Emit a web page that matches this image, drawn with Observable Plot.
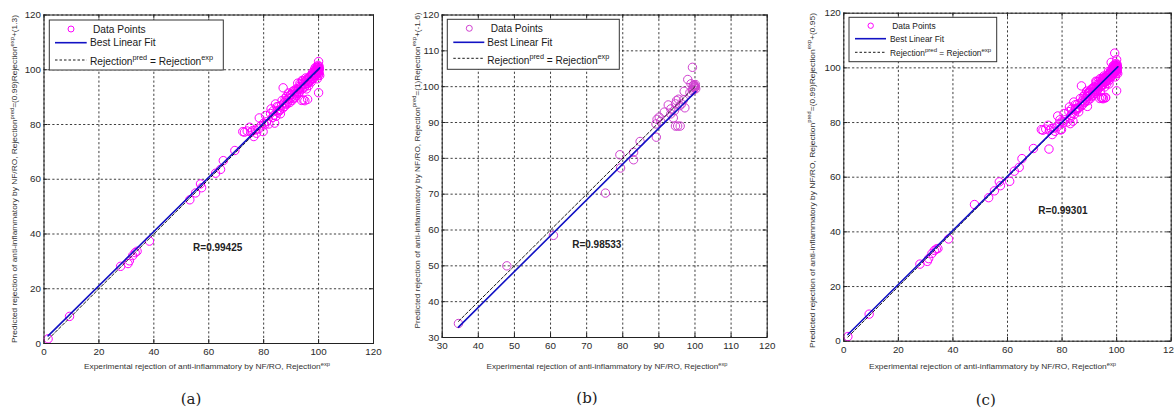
<!DOCTYPE html>
<html><head><meta charset="utf-8">
<script src="https://cdn.jsdelivr.net/npm/d3@7"></script>
<script src="https://cdn.jsdelivr.net/npm/@observablehq/plot@0.6"></script>
<style>
html,body{margin:0;padding:0;background:#fff;width:1174px;height:409px;overflow:hidden;}
#root{position:relative;width:1174px;height:409px;}
#root svg{position:absolute;top:0;}
</style></head><body><div id="root"></div>
<script>
// ---- Data ----
// (a) training set: experimental vs predicted rejection
const trainExp = [1.5,9.3,27.9,30.6,31.1,32.3,33.2,33.9,38.4,53.1,55.2,57.0,57.4,62.5,64.3,65.3,69.5,
72.4,74.0,74.9,75.4,76.4,77.4,78.2,78.4,79.8,80.4,80.7,81.9,82.7,83.7,84.0,84.3,84.9,85.5,86.1,87.1,86.7,87.6,88.3,88.5,89.2,89.8,90.4,91.0,91.3,92.0,92.4,92.8,93.4,93.8,94.4,94.0,94.8,95.2,95.6,95.8,96.4,96.8,97.3,97.7,98.0,98.3,98.9,99.2,99.5,99.7,100,100,100.3,99.8,100.0,100.4,99.5,
86,87.5,88.5,89.5,90,90.8,91.5,92,92.5,93,93.5,94,94.5,95,95.5,96,96.5,97,97.5,98,98.5,99,99,99.5,100,100,99.8,99.3,98.7,97.8,96.2,95.3,94.2,93.2,92.2,91.2,90.2,89,88,87,85.2,84.5,83.2,82.5,81,80,79,77,76,73,
99.6,100.2,99.9,100.1,98.8,95.0,96.0,
96.5,97.2,98.2,99.1,99.4,100.2,98.5,97.5,96.8,95.8,94.8,93.8,92.8,91.8,90.5,89.5,88.8,87.8,86.5,85.8,84.8,83.5,99.7,100.1,99.2];
const trainPred = [1.7,9.9,28.2,29.2,30.2,32.1,33.2,33.7,37.4,52.5,55.0,58.3,56.9,62.2,63.6,66.8,70.5,
77.4,77.6,79.0,77.2,75.6,76.8,78.4,82.4,77.4,79.9,83.3,80.2,85.7,83.3,80.5,87.5,85.1,86.6,83.9,93.4,88.8,86.6,90.2,87.5,89.4,90.8,88.8,92.4,90.0,91.4,95.1,92.7,93.6,88.8,89.0,96.1,94.6,95.5,93.0,96.7,94.2,97.5,95.5,98.3,97.0,99.1,97.9,99.7,98.5,100.9,103.0,91.6,100.3,101.6,99.1,97.9,96.7,
85.5,88,89,88,91,89.5,92,90.5,93,92,94.5,93,95,94,96,95,97,96,97.5,98.5,98,99,100,99.5,100,101,99,100.5,99.5,99,96.5,97,95.8,95,92,91,90,91.5,87.5,86,84.5,83,82.5,84,81,80.5,79.5,78,77.8,77.2,
100.2,101.2,98,99.6,100.8,88.7,89.2,
95.5,97.8,96.8,98.2,101,98.6,100,96.5,96,95,93.5,94,91.5,93,92,90.5,88.2,89.5,87,85,86.5,85,99.3,100.4,99.2];
// (b) testing set
const testExp = [34.5,47.9,60.8,75.2,79.2,79.4,83.0,83.0,84.8,89.3,89.2,89.5,90.1,90.5,91.5,92.6,93.3,94.0,94.6,94.9,95.4,94.6,95.2,95.9,96.3,96.8,97.0,97.2,98.0,98.9,99.3,99.5,99.8,100,100.2,99.3,98.6,94.3,93.3,95.8,99.7,100,99.9,100.1,99.6];
const testPred = [33.9,50.0,58.5,70.3,81.0,77.3,81.7,79.6,84.7,85.9,89.6,90.9,91.5,90.3,92.9,94.9,92.4,91.3,95.2,96.1,96.5,89.0,89.0,89.0,95.2,96.3,98.7,94.1,102.0,100.8,105.4,100.3,99.6,100,99.4,98.9,98.4,93.3,93.8,94.7,100.5,99.8,100.2,100.6,99.2];
// (c) all data = training + testing
const allExp = trainExp.concat(testExp);
const allPred = trainPred.concat(testPred);

const fitSlope = [0.99, 1, 0.99];
const fitIntercept = [1.3, -1.6, 0.95];
const slopeText = ["(0.99)", "(1)", "(0.99)"];
const interceptText = ["(1.3)", "(-1.6)", "(0.95)"];
const rLabels = ["R=0.99425", "R=0.98533", "R=0.99301"];
const captions = ["(a)", "(b)", "(c)"];
const ticksA = [0, 20, 40, 60, 80, 100, 120];
const ticksB = [30, 40, 50, 60, 70, 80, 90, 100, 110, 120];

// ---- Layout ----
const FONT = "'Liberation Sans', Arial, Helvetica, sans-serif";
const BLUE = "#1212c4";
const panels = [
  {left: 0, width: 390, mt: 14.5, mb: 66, ml: 43.5, mr: 17, xs: trainExp, ys: trainPred, ticks: ticksA, domain: [0,120],
   dot: "#ff00ff", rx: 54.3, ry: 35,
   leg: {x: 49.3, y: 20, w: 174, h: 50, fs: 10.2, cx: 71, cr: 3, t1x: 93, lx1: 55, lx2: 86.7, tx: 90, r1: 29, r2: 42.7, r3: 60, r3b: 64.5},
   xt: {cx: 207, y: 369, len: 246}, yt: {x: 17, cy: 179, len: 328}, cap: {x: 191, y: 404}},
  {left: 390, width: 390, mt: 14.5, mb: 72, ml: 51.7, mr: 13.3, xs: testExp, ys: testPred, ticks: ticksB, domain: [30,120],
   dot: "#d040d0", rx: 66, ry: 55.9,
   leg: {x: 57.3, y: 19.3, w: 172, h: 50, fs: 10.1, cx: 79.3, cr: 3, t1x: 100.7, lx1: 63.3, lx2: 94.3, tx: 97.3, r1: 28.3, r2: 42.3, r3: 58.3, r3b: 63.5},
   xt: {cx: 217, y: 369, len: 241}, yt: {x: 29.7, cy: 170.5, len: 316}, cap: {x: 197, y: 403}},
  {left: 780, width: 394, mt: 12.7, mb: 68.3, ml: 63.3, mr: 3.3, xs: allExp, ys: allPred, ticks: ticksA, domain: [0,120],
   dot: "#ff00ff", rx: 71.3, ry: 47.8,
   leg: {x: 69, y: 17.3, w: 147.7, h: 44.4, fs: 8.4, cx: 90.7, cr: 2.7, t1x: 112.3, lx1: 75, lx2: 106, tx: 110, r1: 25.7, r2: 38.7, r3: 52.3, r3b: 56},
   xt: {cx: 212.6, y: 369, len: 247}, yt: {x: 34.7, cy: 180.5, len: 335}, cap: {x: 205.7, y: 405}}
];

const root = document.getElementById("root");
panels.forEach((p, i) => {
  const H = 409;
  const fh = H - p.mt - p.mb;
  const fw = p.width - p.ml - p.mr;
  const pts = p.xs.map((x, k) => ({x, y: p.ys[k]}));
  const ext = d3.extent(p.xs);
  const fit = ext.map(x => ({x, y: fitSlope[i] * x + fitIntercept[i]}));
  const ideal = ext.map(x => ({x, y: x}));
  const svg = Plot.plot({
    width: p.width, height: H,
    marginTop: p.mt, marginBottom: p.mb, marginLeft: p.ml, marginRight: p.mr,
    style: {fontFamily: FONT, fontSize: "9.8px", color: "#2a2a2a", overflow: "visible", maxWidth: "none", background: "transparent"},
    x: {domain: p.domain, label: null},
    y: {domain: p.domain, label: null},
    marks: [
      Plot.gridX(p.ticks, {stroke: "#111", strokeOpacity: 0.9, strokeDasharray: "2.2,2.2", strokeWidth: 0.9}),
      Plot.gridY(p.ticks, {stroke: "#111", strokeOpacity: 0.9, strokeDasharray: "2.2,2.2", strokeWidth: 0.9}),
      Plot.ruleX(p.ticks, {x: d => d, insetTop: fh - 4, stroke: "#222"}),
      Plot.ruleX(p.ticks, {x: d => d, insetBottom: fh - 4, stroke: "#222"}),
      Plot.ruleY(p.ticks, {y: d => d, insetRight: fw - 4, stroke: "#222"}),
      Plot.ruleY(p.ticks, {y: d => d, insetLeft: fw - 4, stroke: "#222"}),
      Plot.dot(pts, {x: "x", y: "y", r: 4.2, stroke: p.dot, fill: "none", strokeWidth: 1}),
      Plot.line(ideal, {x: "x", y: "y", stroke: "#000", strokeDasharray: "3,2", strokeWidth: 0.9}),
      Plot.line(fit, {x: "x", y: "y", stroke: BLUE, strokeWidth: 1.6}),
      Plot.text([rLabels[i]], {x: () => p.rx, y: () => p.ry, text: d => d, textAnchor: "start", fontWeight: "bold", fontSize: 10, fill: "#222", fontFamily: FONT}),
      Plot.axisX(p.ticks, {tickSize: 0, tickPadding: 5, label: null}),
      Plot.axisY(p.ticks, {tickSize: 0, tickPadding: 3, label: null}),
      Plot.frame({stroke: "#222"})
    ]
  });
  svg.style.left = p.left + "px";
  root.appendChild(svg);
  const s = d3.select(svg);

  // legend
  const L = p.leg;
  const g = s.append("g").attr("font-family", FONT).attr("fill", "#1a1a1a").attr("font-size", L.fs)
    .attr("text-anchor", "start");
  g.append("rect").attr("x", L.x).attr("y", L.y).attr("width", L.w).attr("height", L.h)
    .attr("fill", "#fff").attr("stroke", "#333").attr("stroke-width", 1);
  g.append("circle").attr("cx", L.cx).attr("cy", L.r1).attr("r", L.cr)
    .attr("fill", "none").attr("stroke", p.dot).attr("stroke-width", 1);
  g.append("text").attr("x", L.t1x).attr("y", L.r1).attr("dy", "0.36em").text("Data Points");
  g.append("line").attr("x1", L.lx1).attr("x2", L.lx2).attr("y1", L.r2).attr("y2", L.r2)
    .attr("stroke", BLUE).attr("stroke-width", 1.6);
  g.append("text").attr("x", L.tx).attr("y", L.r2).attr("dy", "0.36em").text("Best Linear Fit");
  g.append("line").attr("x1", L.lx1).attr("x2", L.lx2).attr("y1", L.r3).attr("y2", L.r3)
    .attr("stroke", "#000").attr("stroke-width", 0.9).attr("stroke-dasharray", "2.5,2");
  const sup = L.fs * 0.72, up = L.fs * 0.45;
  const t3 = g.append("text").attr("x", L.tx).attr("y", L.r3b);
  t3.append("tspan").text("Rejection");
  t3.append("tspan").attr("font-size", sup).attr("dy", -up).text("pred");
  t3.append("tspan").attr("dy", up).text(" = Rejection");
  t3.append("tspan").attr("font-size", sup).attr("dy", -up).text("exp");

  // axis titles
  const tf = 7.8;
  const xt = s.append("text").attr("font-family", FONT).attr("font-size", tf).attr("fill", "#333")
    .attr("x", p.xt.cx).attr("y", p.xt.y).attr("text-anchor", "middle")
    .attr("textLength", p.xt.len).attr("lengthAdjust", "spacingAndGlyphs");
  xt.append("tspan").text("Experimental rejection of anti-inflammatory by NF/RO, Rejection");
  xt.append("tspan").attr("font-size", 5.4).attr("dy", -3.4).text("exp");

  const yt = s.append("text").attr("font-family", FONT).attr("font-size", tf).attr("fill", "#333")
    .attr("text-anchor", "middle")
    .attr("transform", `translate(${p.yt.x},${p.yt.cy}) rotate(-90)`)
    .attr("textLength", p.yt.len).attr("lengthAdjust", "spacingAndGlyphs");
  yt.append("tspan").text("Predicted rejection of anti-inflammatory by NF/RO, Rejection");
  yt.append("tspan").attr("font-size", 5.4).attr("dy", -3.4).text("pred");
  yt.append("tspan").attr("dy", 3.4).text("=" + slopeText[i] + "Rejection");
  yt.append("tspan").attr("font-size", 5.4).attr("dy", -3.4).text("exp");
  yt.append("tspan").attr("dy", 3.4).text("+" + interceptText[i]);

  // caption
  s.append("text").attr("font-family", "'DejaVu Serif', serif").attr("font-size", 15).attr("fill", "#222")
    .attr("x", p.cap.x).attr("y", p.cap.y).attr("text-anchor", "middle").text(captions[i]);
});
</script>
</body></html>
